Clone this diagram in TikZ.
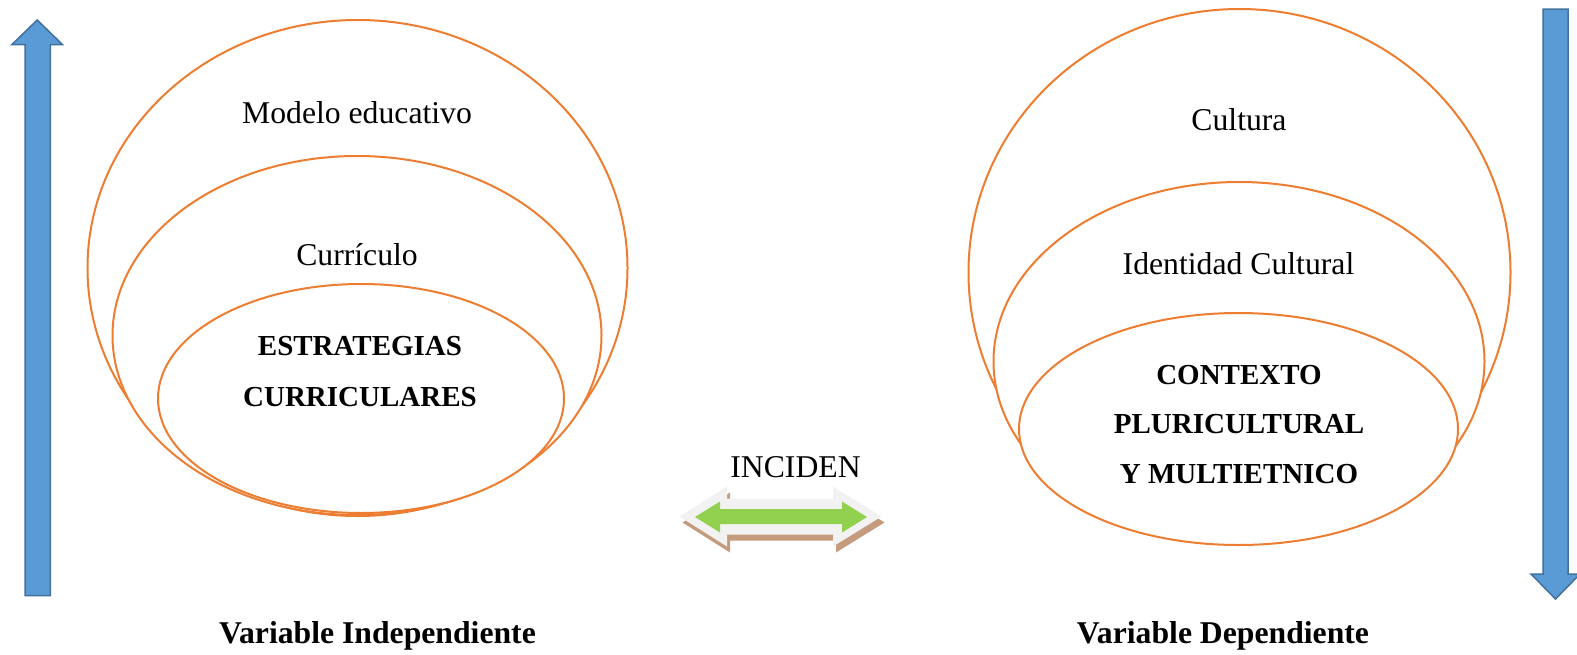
\documentclass[tikz,border=0pt]{standalone}
\usepackage{fontspec}
\setmainfont{Liberation Serif}
\usetikzlibrary{shapes.geometric}
\definecolor{ringorange}{HTML}{ED7D31}
\definecolor{arrowblue}{HTML}{5B9BD5}
\definecolor{arrowedge}{HTML}{41719C}
\definecolor{rimgray}{HTML}{F2F2F2}
\definecolor{shadowbrown}{HTML}{C49B7D}
\definecolor{arrowgreen}{HTML}{92D050}
\begin{document}
\begin{tikzpicture}[x=1pt,y=-1pt,
  ring/.style={ellipse, draw=ringorange, line width=2pt, fill=white, inner sep=0pt},
  lbl/.style={font=\fontsize{31.7}{38}\selectfont, anchor=base, inner sep=0pt},
  blbl/.style={font=\fontsize{29}{35}\selectfont\bfseries, anchor=base, inner sep=0pt},
  vlbl/.style={font=\fontsize{31.7}{38}\selectfont\bfseries, anchor=base, inner sep=0pt},
  bluearrow/.style={fill=arrowblue, draw=arrowedge, line width=1.5pt, line join=miter}]
\useasboundingbox (0,0) rectangle (1577,654);

% left stacked ellipses
\node[ring, minimum width=540pt, minimum height=496pt] (lout) at (357.5,268) {};
\node[ring, minimum width=489pt, minimum height=359pt] (lmid) at (357,335.5) {};
\node[ring, minimum width=406pt, minimum height=229pt] (linn) at (361,398.5) {};

% right stacked ellipses
\node[ring, minimum width=542pt, minimum height=527pt] (rout) at (1239.5,272.5) {};
\node[ring, minimum width=491pt, minimum height=359pt] (rmid) at (1239,361.5) {};
\node[ring, minimum width=439pt, minimum height=232pt] (rinn) at (1238.5,429) {};

% texts
\node[lbl] (tmod) at (357,123.3) {Modelo educativo};
\node[lbl] (tcur) at (357,265.5) {Currículo};
\node[blbl] (test) at (360,355) {ESTRATEGIAS};
\node[blbl] (tcurr) at (360,406) {CURRICULARES};

\node[lbl] (tcul) at (1239,130) {Cultura};
\node[lbl] (tide) at (1238.5,274.5) {Identidad Cultural};
\node[blbl] (tcon) at (1239,384) {CONTEXTO};
\node[blbl] (tplu) at (1239,433.5) {PLURICULTURAL};
\node[blbl] (tymu) at (1239,483.7) {Y MULTIETNICO};

\node[lbl] (tinc) at (795.5,477) {INCIDEN};
\node[vlbl] (tvi) at (377.5,643) {Variable Independiente};
\node[vlbl] (tvd) at (1223,643) {Variable Dependiente};

% blue arrows
\draw[bluearrow] (37.2,20) -- (62.4,44.5) -- (50.3,44.5) -- (50.3,595.5)
  -- (25,595.5) -- (25,44.5) -- (12,44.5) -- cycle;
\draw[bluearrow] (1543,9) -- (1568,9) -- (1568,574) -- (1580,574)
  -- (1555.5,599) -- (1531,574) -- (1543,574) -- cycle;

% double arrow (shadow, rim, face)
\fill[shadowbrown, shift={(3,6)}] (679.5,516.5) -- (727,486.5) -- (727,498.5) -- (833,498.5)
  -- (833,486.5) -- (881.5,516.5) -- (833,546.5) -- (833,534.5) -- (727,534.5)
  -- (727,546.5) -- cycle;
\fill[rimgray] (679.5,516.5) -- (727,486.5) -- (727,498.5) -- (833,498.5)
  -- (833,486.5) -- (881.5,516.5) -- (833,546.5) -- (833,534.5) -- (727,534.5)
  -- (727,546.5) -- cycle;
\fill[arrowgreen] (695,517) -- (720,501.5) -- (720,509) -- (842,509) -- (842,501.5)
  -- (867,517) -- (842,532.5) -- (842,524) -- (720,524) -- (720,532.5) -- cycle;
\end{tikzpicture}
\end{document}
